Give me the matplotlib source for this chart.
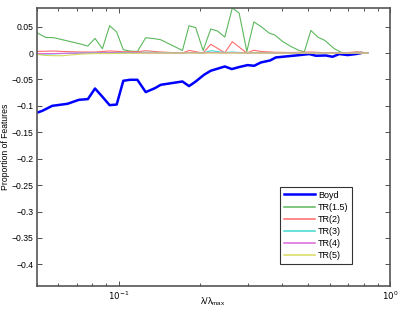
import matplotlib.pyplot as plt
import numpy as np

plt.rcParams['font.family'] = ['Liberation Sans', 'DejaVu Sans']

# Boyd
boyd_x = [0.0502, 0.0523, 0.0569, 0.0647, 0.0714, 0.0770, 0.0818, 0.0863, 0.0926, 0.0983,
          0.1040, 0.1101, 0.1172, 0.1258, 0.1361, 0.1429, 0.1718, 0.1817, 0.1923, 0.2064,
          0.2185, 0.2461, 0.2612, 0.2779, 0.2985, 0.3157, 0.3342, 0.3616, 0.3795, 0.4132,
          0.4497, 0.5037, 0.5332, 0.5804, 0.6143, 0.6500, 0.6981, 0.7488, 0.7816]
boyd_y = [-0.1126, -0.1094, -0.0999, -0.0961, -0.0885, -0.0872, -0.0671, -0.0804, -0.0986, -0.0975,
          -0.0525, -0.0506, -0.0506, -0.0739, -0.0664, -0.0601, -0.0538, -0.0626, -0.0538, -0.0411,
          -0.0335, -0.0254, -0.0303, -0.0265, -0.0228, -0.0241, -0.0178, -0.0140, -0.0083, -0.0064,
          -0.0046, -0.0019, -0.0051, -0.0046, -0.0070, -0.0019, -0.0038, -0.0019, 0.0]

# TR(1.5)
tr15_x = [0.0502, 0.0538, 0.0577, 0.0621, 0.0724, 0.0770, 0.0818, 0.0871, 0.0926, 0.0983,
          0.1040, 0.1101, 0.1172, 0.1258, 0.1361, 0.1429, 0.1718, 0.1817, 0.1923, 0.2047,
          0.2185, 0.2313, 0.2461, 0.2623, 0.2779, 0.2967, 0.3149, 0.3342, 0.3585, 0.3763,
          0.4018, 0.4312, 0.4626, 0.4835, 0.5110, 0.5424, 0.5755, 0.6217, 0.6596, 0.6998,
          0.7552, 0.8019, 0.8295]
tr15_y = [0.0379, 0.0296, 0.0290, 0.0252, 0.0171, 0.0133, 0.0277, 0.0082, 0.0518, 0.0398,
          0.0063, 0.0038, 0.0030, 0.0290, 0.0271, 0.0252, 0.0049, 0.0518, 0.0480, 0.0049,
          0.0455, 0.0417, 0.0303, 0.0853, 0.0758, 0.0030, 0.0590, 0.0504, 0.0379, 0.0341,
          0.0220, 0.0125, 0.0049, 0.0025, 0.0428, 0.0300, 0.0239, 0.0087, 0.0015, 0.0,
          0.0019, 0.0011, 0.0]

# small-valued series share one grid
small_x = [0.0502, 0.0538, 0.0577, 0.0621, 0.0724, 0.0818, 0.0926, 0.1040, 0.1172, 0.1258,
           0.1429, 0.1718, 0.1817, 0.2047, 0.2185, 0.2461, 0.2623, 0.2967, 0.3149, 0.3342,
           0.3763, 0.4312, 0.5110, 0.5755, 0.6998, 0.7552, 0.8019, 0.8295]
tr2_y = [0.0030, 0.0035, 0.0038, 0.0030, 0.0020, 0.0020, 0.0040, 0.0025, 0.0025, 0.0044,
         0.0020, 0.0, 0.0050, 0.0, 0.0167, 0.0006, 0.0214, 0.0, 0.0053, 0.0030,
         0.0015, 0.0010, 0.0020, 0.0006, 0.0010, 0.0020, 0.0010, 0.0]
tr3_y = [-0.0020, -0.0020, -0.0015, -0.0010, 0.0, 0.0005, 0.0010, 0.0010, 0.0010, 0.0015,
         0.0010, 0.0, 0.0010, 0.0, 0.0044, 0.0010, 0.0020, 0.0, 0.0010, 0.0005,
         0.0, 0.0, 0.0, 0.0, 0.0, 0.0, 0.0, 0.0]
tr4_y = [-0.0010, -0.0010, -0.0010, -0.0005, 0.0, 0.0, 0.0005, 0.0, 0.0005, 0.0,
         0.0, 0.0, 0.0005, 0.0, 0.0010, 0.0, 0.0005, 0.0, 0.0, 0.0,
         0.0, 0.0, 0.0, 0.0, 0.0, 0.0, 0.0, 0.0]
tr5_y = [-0.0030, -0.0045, -0.0050, -0.0050, -0.0020, -0.0010, -0.0010, -0.0005, -0.0005, 0.0,
         0.0, 0.0, 0.0, 0.0, 0.0, 0.0, 0.0, 0.0, 0.0, 0.0,
         0.0, 0.0, 0.0, 0.0, 0.0, 0.0, 0.0, 0.0]

yticks = [-0.4, -0.35, -0.3, -0.25, -0.2, -0.15, -0.1, -0.05, 0, 0.05]
ytick_labels = ['\u22120.4', '\u22120.35', '\u22120.3', '\u22120.25', '\u22120.2',
                '\u22120.15', '\u22120.1', '\u22120.05', '0', '0.05']

fig = plt.figure(figsize=(3.99, 3.15), dpi=100)
ax = fig.add_axes([37 / 399, 1 - 286 / 315, (390 - 37) / 399, (286 - 8) / 315])

ax.plot(boyd_x, boyd_y, color='#0000ff', lw=1.8, label='Boyd')
ax.plot(tr15_x, tr15_y, color='#5cb85c', lw=0.8, label='TR(1.5)')
ax.plot(small_x, tr2_y, color='#ff6b6b', lw=0.8, label='TR(2)')
ax.plot(small_x, tr3_y, color='#40d8d0', lw=0.8, label='TR(3)')
ax.plot(small_x, tr4_y, color='#dd66dd', lw=0.8, label='TR(4)')
ax.plot(small_x, tr5_y, color='#d8d860', lw=0.8, label='TR(5)')

ax.set_xscale('log')
ax.set_xlim(0.05, 1)
ax.set_ylim(-0.441, 0.0853)
ax.set_yticks(yticks)
ax.set_yticklabels(ytick_labels)
ax.set_xticks([0.1, 1])
ax.set_xticklabels(['$10^{-1}$', '$10^{0}$'])

ax.tick_params(which='both', direction='in', top=True, right=True, labelsize=6.2,
               colors='#333333', labelcolor='black', pad=2.5)
ax.tick_params(which='major', length=3.5, width=0.6)
ax.tick_params(which='minor', length=2, width=0.6)
for s in ax.spines.values():
    s.set_color('#555555')
    s.set_linewidth(1.2)

fig.text(6 / 399, 1 - 147 / 315, 'Proportion of Features', fontsize=6.2,
         rotation=90, ha='center', va='center')
fig.text(213 / 399, 1 - 302 / 315, r'$\mathregular{\lambda/\lambda_{max}}$',
         fontsize=6.5, ha='center', va='center')

leg = ax.legend(loc='lower right', fontsize=6.5, frameon=True,
                fancybox=False, handlelength=3.5, handletextpad=0.3,
                borderpad=0.4, labelspacing=0.35, borderaxespad=0)
leg.set_bbox_to_anchor((352 / 399, 1 - 264 / 315), transform=fig.transFigure)
leg.get_frame().set_edgecolor('black')
leg.get_frame().set_linewidth(0.8)
for h in leg.get_lines()[1:]:
    h.set_linewidth(1.1)

fig.savefig('out.png', dpi=100)
